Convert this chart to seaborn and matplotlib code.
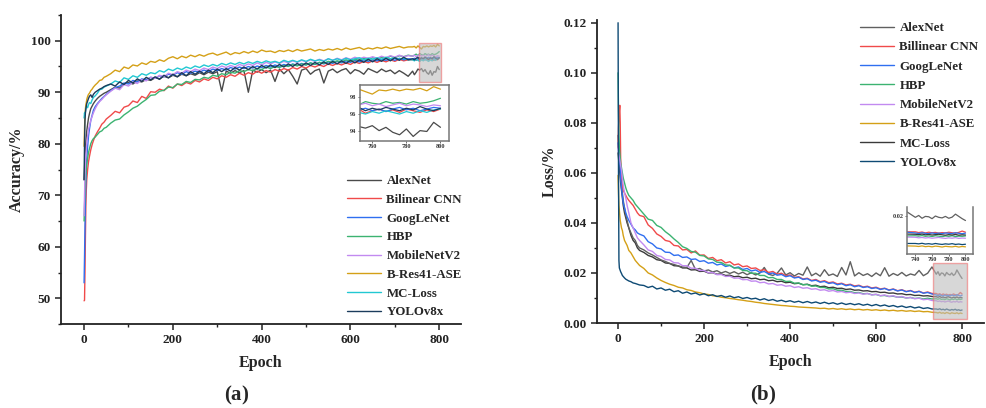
import matplotlib
matplotlib.use("Agg")
import matplotlib.pyplot as plt
import seaborn as sns
from matplotlib.patches import Rectangle
from matplotlib.ticker import MultipleLocator, FormatStrFormatter

# ---------------- data ----------------
epochs = ([0, 1, 2, 3, 4, 5, 6, 8, 10, 12, 15, 18, 21, 25, 30, 35, 40, 45, 50]
          + list(range(60, 731, 10)) + list(range(740, 801, 4)))

names_acc = ["AlexNet", "Bilinear CNN", "GoogLeNet", "HBP", "MobileNetV2",
             "B-Res41-ASE", "MC-Loss", "YOLOv8x"]
names_loss = ["AlexNet", "Billinear CNN", "GoogLeNet", "HBP", "MobileNetV2",
              "B-Res41-ASE", "MC-Loss", "YOLOv8x"]

acc_alexnet = ([73.0, 75.0, 77.5, 79.0, 80.5, 81.5, 82.5, 83.8, 85.0, 85.8, 86.8, 87.3, 87.8, 88.3, 88.8, 89.2, 89.5, 89.8, 90.0]
               + [90.5, 91.0, 90.8, 91.6, 91.9, 91.6, 92.2, 92.0, 92.5, 92.3,
                  92.8, 92.6, 93.1, 92.8, 93.3, 93.0, 93.5, 93.2, 93.6, 93.3,
                  93.8, 93.4, 93.9, 93.6, 94.0, 90.2, 94.1, 93.7, 94.2, 93.8,
                  94.2, 90.0, 94.3, 93.9, 94.4, 93.8, 94.3, 92.1, 94.5, 93.6,
                  94.4, 93.1, 91.6, 94.3, 94.6, 93.5, 94.2, 94.5, 91.8, 94.1,
                  94.5, 93.8, 94.3, 94.6, 93.6, 94.4, 94.1, 93.5, 94.6, 94.2,
                  93.8, 94.5, 94.0, 94.3, 93.6, 94.2, 93.7, 93.1]
               + [94.1, 93.4, 93.9, 94.5, 94.3, 94.6, 94.0, 94.4, 93.8, 93.5, 94.2, 93.3, 94.0, 93.9, 95.0, 94.4])
acc_bilinear = ([49.5, 49.6, 55.0, 62.0, 68.0, 71.0, 73.0, 75.0, 76.5, 77.5, 78.8, 79.8, 80.6, 81.5, 82.3, 83.0, 83.8, 84.2, 84.8]
                + [85.5, 86.3, 86.0, 87.1, 87.4, 88.3, 88.0, 89.2, 88.8, 90.1,
                   90.0, 90.6, 90.3, 91.2, 90.8, 91.6, 91.3, 91.9, 91.6, 92.3,
                   92.0, 92.6, 92.3, 92.9, 92.6, 93.2, 92.9, 93.4, 93.1, 93.7,
                   93.3, 93.8, 93.5, 94.1, 93.7, 94.2, 93.9, 94.4, 94.1, 94.6,
                   94.3, 94.8, 94.5, 95.0, 94.7, 95.2, 94.9, 95.3, 95.0, 95.5,
                   95.2, 95.6, 95.3, 95.7, 95.4, 95.9, 95.6, 96.0, 95.7, 96.1,
                   95.8, 96.2, 95.9, 96.3, 96.0, 96.4, 96.1, 96.3]
                + [96.3, 96.5, 96.2, 96.6, 96.1, 96.4, 96.6, 96.3, 96.5, 96.2, 96.6, 96.4, 96.2, 96.5, 96.3, 96.6])
acc_googlenet = ([53.0, 58.0, 64.0, 69.0, 72.5, 75.0, 77.0, 79.5, 81.5, 82.8, 84.5, 85.5, 86.5, 87.2, 87.8, 88.3, 88.8, 89.2, 89.6]
                 + [90.3, 90.9, 91.2, 91.8, 91.6, 92.3, 92.0, 92.6, 92.4, 92.9,
                    92.7, 93.2, 93.0, 93.5, 93.3, 93.8, 93.5, 94.0, 93.7, 94.1,
                    93.9, 94.3, 94.0, 94.5, 94.2, 94.6, 94.3, 94.8, 94.5, 94.9,
                    94.6, 95.0, 94.7, 95.1, 94.8, 95.2, 94.9, 95.3, 95.0, 95.4,
                    95.1, 95.5, 95.2, 95.6, 95.3, 95.7, 95.4, 95.8, 95.5, 95.9,
                    95.6, 96.0, 95.7, 96.1, 95.8, 96.2, 95.9, 96.3, 96.0, 96.3,
                    96.1, 96.4, 96.2, 96.5, 96.2, 96.6, 96.3, 96.5]
                 + [96.4, 96.6, 96.3, 96.5, 96.7, 96.4, 96.6, 96.3, 96.6, 96.8, 96.5, 96.7, 96.4, 96.6, 96.8, 96.7])
acc_hbp = ([65.0, 68.0, 70.5, 72.5, 74.0, 75.0, 76.0, 77.2, 78.3, 79.0, 80.0, 80.6, 81.0, 81.3, 81.8, 82.3, 82.5, 83.0, 83.2]
           + [84.0, 84.6, 84.8, 85.6, 86.2, 86.9, 87.3, 88.0, 88.6, 89.4,
              89.5, 90.2, 90.4, 91.0, 90.9, 91.6, 91.5, 92.1, 91.9, 92.5,
              92.4, 92.9, 92.7, 93.3, 93.1, 93.6, 93.4, 93.9, 93.7, 94.2,
              94.0, 94.4, 94.2, 94.6, 94.4, 94.9, 94.6, 95.0, 94.8, 95.2,
              95.0, 95.4, 95.1, 95.5, 95.3, 95.7, 95.4, 95.8, 95.6, 96.0,
              95.8, 96.1, 95.9, 96.3, 96.0, 96.4, 96.2, 96.6, 96.3, 96.7,
              96.5, 96.8, 96.6, 97.0, 96.7, 97.1, 96.9, 97.2]
           + [97.0, 97.2, 97.4, 97.1, 97.5, 97.3, 97.2, 97.5, 97.3, 97.4, 97.2, 97.5, 97.3, 97.4, 97.6, 97.9])
acc_mobilenet = ([66.0, 70.0, 74.0, 76.5, 78.0, 79.0, 80.0, 81.5, 82.8, 83.5, 84.5, 85.3, 86.0, 86.8, 87.6, 88.2, 88.6, 89.1, 89.5]
                 + [90.2, 90.8, 90.5, 91.5, 91.2, 92.0, 91.7, 92.5, 92.2, 92.9,
                    92.7, 93.3, 93.0, 93.7, 93.4, 94.0, 93.7, 94.3, 94.0, 94.5,
                    94.2, 94.7, 94.4, 94.9, 94.6, 95.1, 94.8, 95.2, 94.9, 95.4,
                    95.1, 95.5, 95.2, 95.7, 95.3, 95.8, 95.5, 95.9, 95.6, 96.0,
                    95.7, 96.1, 95.8, 96.2, 95.9, 96.3, 96.0, 96.4, 96.1, 96.5,
                    96.2, 96.6, 96.3, 96.7, 96.4, 96.8, 96.5, 96.8, 96.6, 96.9,
                    96.6, 97.0, 96.7, 97.1, 96.8, 97.2, 96.9, 97.1]
                 + [97.0, 97.2, 96.9, 97.1, 97.3, 97.0, 97.2, 96.9, 97.1, 97.3, 97.0, 97.2, 97.1, 96.9, 97.1, 97.0])
acc_bres = ([79.5, 83.0, 85.5, 86.8, 87.6, 88.0, 88.6, 89.2, 89.6, 89.8, 90.3, 90.6, 91.0, 91.4, 91.8, 92.3, 92.4, 92.9, 93.1]
            + [93.6, 94.3, 94.0, 94.9, 94.6, 95.3, 95.1, 95.7, 95.4, 96.0,
               95.8, 96.3, 96.0, 96.6, 96.9, 96.5, 97.0, 96.7, 97.2, 96.9,
               97.3, 97.0, 97.4, 97.6, 97.2, 97.5, 97.8, 97.3, 97.7, 97.5,
               97.9, 97.6, 98.0, 97.7, 98.2, 97.9, 98.0, 97.7, 98.1, 97.9,
               98.2, 97.9, 98.3, 98.0, 98.2, 98.4, 98.0, 98.3, 98.1, 98.4,
               98.2, 98.5, 98.2, 98.6, 98.3, 98.5, 98.7, 98.3, 98.6, 98.4,
               98.7, 98.5, 98.8, 98.5, 98.7, 98.9, 98.6, 98.8]
            + [98.8, 98.9, 98.6, 99.0, 98.7, 98.4, 98.9, 98.8, 99.0, 98.8, 99.0, 98.9, 99.1, 98.8, 99.3, 99.0])
acc_mcloss = ([85.0, 86.0, 85.5, 86.2, 86.8, 87.0, 87.3, 87.0, 87.6, 88.0, 87.8, 88.5, 89.0, 89.3, 89.8, 90.5, 90.6, 91.0, 91.2]
              + [91.6, 92.2, 91.9, 92.8, 92.5, 93.2, 92.9, 93.6, 93.3, 93.8,
                 93.6, 94.2, 93.9, 94.5, 94.2, 94.7, 94.4, 94.9, 94.6, 95.1,
                 94.8, 95.3, 95.0, 95.4, 95.1, 95.6, 95.3, 95.7, 95.4, 95.8,
                 95.5, 95.9, 95.6, 96.0, 95.7, 96.1, 95.8, 96.0, 95.7, 96.2,
                 95.9, 96.2, 95.9, 96.3, 96.0, 96.4, 96.1, 96.3, 96.0, 96.5,
                 96.2, 96.5, 96.2, 96.6, 96.3, 96.5, 96.7, 96.3, 96.6, 96.4,
                 96.7, 96.4, 96.8, 96.5, 96.7, 96.4, 96.6, 96.3]
              + [96.3, 96.1, 96.4, 96.2, 96.0, 96.3, 96.1, 96.4, 96.2, 96.0, 96.3, 96.1, 96.4, 96.2, 96.5, 96.6])
acc_yolo = ([73.0, 80.0, 84.5, 86.0, 86.8, 87.3, 87.8, 88.3, 88.8, 89.2, 89.5, 89.0, 89.6, 90.0, 90.3, 90.6, 90.8, 91.1, 91.3]
            + [91.6, 91.2, 92.0, 91.5, 92.3, 91.8, 92.6, 92.1, 92.9, 92.4,
               93.0, 92.5, 93.3, 92.8, 93.5, 93.0, 93.8, 93.2, 94.0, 93.5,
               94.1, 93.6, 94.3, 93.8, 94.5, 94.0, 94.6, 94.1, 94.8, 94.3,
               94.9, 94.4, 95.0, 94.5, 95.2, 94.7, 95.3, 94.8, 95.4, 94.9,
               95.5, 95.0, 95.6, 95.1, 95.7, 95.2, 95.8, 95.3, 95.9, 95.4,
               96.0, 95.5, 96.1, 95.6, 96.2, 95.7, 96.3, 95.8, 96.4, 95.9,
               96.5, 96.0, 96.6, 96.1, 96.7, 96.2, 96.8, 96.3]
            + [96.5, 96.3, 96.6, 96.8, 96.4, 96.7, 96.5, 96.8, 96.6, 96.4, 96.7, 96.5, 96.9, 96.6, 96.4, 96.7])

loss_alexnet = ([0.075, 0.072, 0.070, 0.068, 0.066, 0.063, 0.060, 0.056, 0.052, 0.049, 0.046, 0.043, 0.041, 0.038, 0.036, 0.034, 0.033, 0.031, 0.030]
                + [0.0292, 0.0280, 0.0272, 0.0262, 0.0252, 0.0246, 0.0238, 0.0234, 0.0228, 0.0224,
                   0.0222, 0.0250, 0.0214, 0.0218, 0.0208, 0.0212, 0.0204, 0.0209, 0.0200, 0.0206,
                   0.0198, 0.0205, 0.0196, 0.0203, 0.0193, 0.0201, 0.0192, 0.0200, 0.0222, 0.0195,
                   0.0190, 0.0199, 0.0220, 0.0192, 0.0201, 0.0188, 0.0198, 0.0191, 0.0224, 0.0189,
                   0.0199, 0.0187, 0.0213, 0.0190, 0.0196, 0.0186, 0.0222, 0.0192, 0.0245, 0.0188,
                   0.0201, 0.0190, 0.0197, 0.0186, 0.0200, 0.0189, 0.0221, 0.0187, 0.0198, 0.0190,
                   0.0202, 0.0188, 0.0196, 0.0191, 0.0210, 0.0189, 0.0199, 0.0224]
                + [0.0195, 0.0205, 0.0190, 0.0200, 0.0198, 0.0188, 0.0202, 0.0195, 0.0192, 0.0200, 0.0190, 0.0196, 0.0212, 0.0200, 0.0188, 0.0178])
loss_bilinear = ([0.070, 0.078, 0.082, 0.085, 0.087, 0.080, 0.066, 0.058, 0.055, 0.053, 0.052, 0.051, 0.050, 0.049, 0.048, 0.047, 0.0455, 0.044, 0.043]
                 + [0.0425, 0.0392, 0.0378, 0.0356, 0.0346, 0.0330, 0.0326, 0.0310, 0.0308, 0.0292,
                    0.0294, 0.0280, 0.0288, 0.0271, 0.0272, 0.0258, 0.0262, 0.0249, 0.0253, 0.0240,
                    0.0245, 0.0232, 0.0236, 0.0225, 0.0228, 0.0218, 0.0220, 0.0210, 0.0213, 0.0202,
                    0.0206, 0.0195, 0.0199, 0.0189, 0.0192, 0.0182, 0.0185, 0.0176, 0.0179, 0.0170,
                    0.0174, 0.0165, 0.0169, 0.0161, 0.0164, 0.0156, 0.0159, 0.0152, 0.0155, 0.0148,
                    0.0151, 0.0144, 0.0147, 0.0140, 0.0143, 0.0136, 0.0139, 0.0132, 0.0136, 0.0129,
                    0.0133, 0.0126, 0.0130, 0.0123, 0.0127, 0.0120, 0.0124, 0.0118]
                 + [0.0118, 0.0114, 0.0117, 0.0112, 0.0116, 0.0113, 0.0115, 0.0111, 0.0114, 0.0112, 0.0116, 0.0113, 0.0111, 0.0115, 0.0122, 0.0116])
loss_googlenet = ([0.072, 0.070, 0.068, 0.066, 0.064, 0.062, 0.058, 0.054, 0.051, 0.048, 0.046, 0.044, 0.0425, 0.041, 0.0395, 0.038, 0.0372, 0.036, 0.0355]
                  + [0.0348, 0.0325, 0.0316, 0.0300, 0.0296, 0.0283, 0.0282, 0.0270, 0.0272, 0.0262,
                     0.0264, 0.0254, 0.0256, 0.0246, 0.0249, 0.0239, 0.0242, 0.0232, 0.0236, 0.0226,
                     0.0230, 0.0220, 0.0224, 0.0214, 0.0218, 0.0208, 0.0212, 0.0202, 0.0206, 0.0196,
                     0.0200, 0.0191, 0.0194, 0.0185, 0.0189, 0.0180, 0.0183, 0.0174, 0.0177, 0.0168,
                     0.0171, 0.0163, 0.0166, 0.0158, 0.0161, 0.0153, 0.0157, 0.0149, 0.0153, 0.0145,
                     0.0149, 0.0142, 0.0145, 0.0138, 0.0141, 0.0134, 0.0138, 0.0131, 0.0135, 0.0128,
                     0.0132, 0.0125, 0.0129, 0.0122, 0.0126, 0.0119, 0.0122, 0.0116]
                  + [0.0112, 0.0109, 0.0113, 0.0110, 0.0108, 0.0112, 0.0109, 0.0111, 0.0108, 0.0112, 0.0110, 0.0109, 0.0113, 0.0110, 0.0108, 0.0111])
loss_hbp = ([0.100, 0.085, 0.075, 0.070, 0.068, 0.066, 0.064, 0.062, 0.060, 0.058, 0.056, 0.054, 0.0525, 0.051, 0.050, 0.049, 0.0475, 0.0465, 0.0455]
            + [0.0435, 0.0415, 0.0410, 0.0390, 0.0382, 0.0365, 0.0352, 0.0336, 0.0322, 0.0305,
               0.0298, 0.0286, 0.0283, 0.0270, 0.0268, 0.0256, 0.0254, 0.0243, 0.0242, 0.0232,
               0.0231, 0.0220, 0.0220, 0.0210, 0.0209, 0.0199, 0.0199, 0.0190, 0.0190, 0.0181,
               0.0182, 0.0174, 0.0174, 0.0166, 0.0167, 0.0159, 0.0160, 0.0153, 0.0154, 0.0147,
               0.0148, 0.0142, 0.0142, 0.0136, 0.0137, 0.0131, 0.0131, 0.0126, 0.0126, 0.0121,
               0.0122, 0.0117, 0.0118, 0.0113, 0.0114, 0.0109, 0.0110, 0.0106, 0.0107, 0.0103,
               0.0104, 0.0100, 0.0102, 0.0098, 0.0100, 0.0096, 0.0099, 0.0096]
            + [0.0097, 0.0095, 0.0098, 0.0094, 0.0096, 0.0093, 0.0097, 0.0095, 0.0092, 0.0096, 0.0094, 0.0097, 0.0093, 0.0095, 0.0094, 0.0096])
loss_mobilenet = ([0.070, 0.068, 0.067, 0.066, 0.065, 0.064, 0.063, 0.061, 0.058, 0.055, 0.052, 0.050, 0.047, 0.044, 0.040, 0.038, 0.036, 0.034, 0.033]
                  + [0.0312, 0.0292, 0.0286, 0.0270, 0.0266, 0.0254, 0.0252, 0.0241, 0.0240, 0.0229,
                     0.0229, 0.0219, 0.0219, 0.0210, 0.0210, 0.0201, 0.0202, 0.0193, 0.0194, 0.0186,
                     0.0187, 0.0179, 0.0180, 0.0173, 0.0174, 0.0167, 0.0168, 0.0161, 0.0163, 0.0156,
                     0.0158, 0.0151, 0.0153, 0.0147, 0.0149, 0.0142, 0.0145, 0.0139, 0.0141, 0.0135,
                     0.0137, 0.0131, 0.0133, 0.0127, 0.0130, 0.0124, 0.0126, 0.0121, 0.0123, 0.0118,
                     0.0120, 0.0115, 0.0118, 0.0112, 0.0115, 0.0109, 0.0112, 0.0106, 0.0109, 0.0103,
                     0.0106, 0.0100, 0.0102, 0.0097, 0.0099, 0.0093, 0.0095, 0.0090]
                  + [0.0089, 0.0086, 0.0088, 0.0085, 0.0087, 0.0084, 0.0086, 0.0088, 0.0085, 0.0083, 0.0086, 0.0084, 0.0087, 0.0083, 0.0085, 0.0084])
loss_bres = ([0.059, 0.052, 0.047, 0.045, 0.043, 0.041, 0.040, 0.038, 0.037, 0.035, 0.033, 0.032, 0.031, 0.029, 0.028, 0.0265, 0.025, 0.024, 0.023]
             + [0.0218, 0.0200, 0.0192, 0.0180, 0.0170, 0.0162, 0.0155, 0.0150, 0.0143, 0.0140,
                0.0133, 0.0130, 0.0124, 0.0121, 0.0116, 0.0114, 0.0109, 0.0107, 0.0103, 0.0101,
                0.0098, 0.0096, 0.0093, 0.0091, 0.0088, 0.0086, 0.0083, 0.0081, 0.0078, 0.0076,
                0.0074, 0.0072, 0.0070, 0.0069, 0.0067, 0.0066, 0.0064, 0.0063, 0.0062, 0.0061,
                0.0060, 0.0058, 0.0059, 0.0056, 0.0058, 0.0055, 0.0057, 0.0054, 0.0056, 0.0053,
                0.0055, 0.0052, 0.0054, 0.0051, 0.0053, 0.0050, 0.0052, 0.0049, 0.0051, 0.0048,
                0.0050, 0.0047, 0.0049, 0.0046, 0.0048, 0.0045, 0.0046, 0.0043]
             + [0.0042, 0.0040, 0.0043, 0.0039, 0.0041, 0.0038, 0.0042, 0.0040, 0.0037, 0.0041, 0.0039, 0.0038, 0.0041, 0.0037, 0.0040, 0.0038])
loss_mcloss = ([0.068, 0.066, 0.064, 0.062, 0.060, 0.058, 0.056, 0.053, 0.050, 0.047, 0.044, 0.042, 0.040, 0.038, 0.035, 0.033, 0.032, 0.030, 0.029]
               + [0.0282, 0.0270, 0.0264, 0.0253, 0.0250, 0.0240, 0.0238, 0.0229, 0.0228, 0.0220,
                  0.0220, 0.0212, 0.0213, 0.0206, 0.0207, 0.0200, 0.0201, 0.0195, 0.0196, 0.0190,
                  0.0191, 0.0185, 0.0187, 0.0181, 0.0183, 0.0177, 0.0179, 0.0173, 0.0175, 0.0169,
                  0.0171, 0.0165, 0.0167, 0.0161, 0.0163, 0.0157, 0.0159, 0.0153, 0.0155, 0.0149,
                  0.0151, 0.0145, 0.0147, 0.0141, 0.0143, 0.0138, 0.0139, 0.0134, 0.0136, 0.0131,
                  0.0132, 0.0128, 0.0129, 0.0125, 0.0126, 0.0122, 0.0123, 0.0119, 0.0120, 0.0116,
                  0.0117, 0.0113, 0.0114, 0.0110, 0.0111, 0.0108, 0.0109, 0.0106]
               + [0.0105, 0.0103, 0.0106, 0.0102, 0.0104, 0.0101, 0.0103, 0.0105, 0.0102, 0.0100, 0.0103, 0.0101, 0.0104, 0.0100, 0.0102, 0.0101])
loss_yolo = ([0.120, 0.060, 0.025, 0.022, 0.0215, 0.021, 0.0205, 0.0198, 0.019, 0.0186, 0.0180, 0.0175, 0.0172, 0.0168, 0.0165, 0.0160, 0.0158, 0.0155, 0.0152]
             + [0.0150, 0.0142, 0.0147, 0.0136, 0.0140, 0.0131, 0.0135, 0.0125, 0.0129, 0.0119,
                0.0124, 0.0116, 0.0120, 0.0112, 0.0117, 0.0109, 0.0113, 0.0106, 0.0110, 0.0103,
                0.0108, 0.0101, 0.0105, 0.0098, 0.0102, 0.0096, 0.0099, 0.0092, 0.0097, 0.0090,
                0.0094, 0.0087, 0.0091, 0.0085, 0.0089, 0.0083, 0.0087, 0.0081, 0.0086, 0.0080,
                0.0084, 0.0078, 0.0083, 0.0077, 0.0081, 0.0075, 0.0080, 0.0074, 0.0078, 0.0073,
                0.0077, 0.0071, 0.0075, 0.0069, 0.0074, 0.0068, 0.0072, 0.0066, 0.0070, 0.0064,
                0.0068, 0.0062, 0.0066, 0.0060, 0.0064, 0.0058, 0.0061, 0.0056]
             + [0.0056, 0.0054, 0.0057, 0.0053, 0.0055, 0.0052, 0.0056, 0.0053, 0.0051, 0.0054, 0.0052, 0.0055, 0.0051, 0.0053, 0.0050, 0.0052])

acc_series = [acc_alexnet, acc_bilinear, acc_googlenet, acc_hbp, acc_mobilenet, acc_bres, acc_mcloss, acc_yolo]
loss_series = [loss_alexnet, loss_bilinear, loss_googlenet, loss_hbp, loss_mobilenet, loss_bres, loss_mcloss, loss_yolo]

colors_acc = ["#4a4a4a", "#f04a4a", "#2f6ff0", "#3cb371", "#c28af0", "#d4a017", "#22c8d2", "#1b3c5c"]
colors_loss = ["#606060", "#f04a4a", "#2f6ff0", "#3cb371", "#c28af0", "#d4a017", "#3a3a3a", "#0e4a74"]

# zoom windows
acc_zoom_x, acc_zoom_y = (754, 804), (91.9, 99.5)
loss_zoom_x, loss_zoom_y = (733, 811), (0.0015, 0.0241)

# ---------------- style ----------------
sns.set_theme(style="ticks")
plt.rcParams["font.family"] = ["Liberation Serif", "DejaVu Serif"]
plt.rcParams["font.weight"] = "bold"
plt.rcParams["axes.labelweight"] = "bold"
plt.rcParams["mathtext.fontset"] = "custom"
plt.rcParams["mathtext.rm"] = "Liberation Serif"
plt.rcParams["mathtext.bf"] = "Liberation Serif:bold"

W, H = 986, 408
fig = plt.figure(figsize=(W / 100, H / 100), dpi=100)
ax1 = fig.add_axes([61 / W, 1 - 324 / H, 400 / W, 309 / H])
ax2 = fig.add_axes([597 / W, 1 - 323 / H, 387 / W, 303 / H])


def style_main(ax):
    for s in ["top", "right"]:
        ax.spines[s].set_visible(False)
    for s in ["left", "bottom"]:
        ax.spines[s].set_linewidth(1.3)
        ax.spines[s].set_color("#222222")
    ax.tick_params(which="major", direction="out", length=4, width=1.1, colors="#222222",
                   labelsize=9.5, labelcolor="#222222")
    ax.tick_params(which="minor", direction="out", length=2.5, width=1.0, colors="#222222")
    for lab in ax.get_xticklabels() + ax.get_yticklabels():
        lab.set_fontweight("bold")
    ax.grid(False)


def style_inset(ax):
    for s in ax.spines.values():
        s.set_linewidth(1.1)
        s.set_color("#777777")
    ax.tick_params(which="major", direction="out", length=1.5, width=0.6, labelsize=4.5, pad=1,
                   colors="#555555", labelcolor="#333333")
    ax.set_facecolor("white")
    ax.grid(False)


legend_kw = dict(frameon=False, prop={"size": 9.3, "weight": "bold", "family": "Liberation Serif"},
                 handlelength=2.6, handletextpad=0.45, borderpad=0, borderaxespad=0)

# ---------------- panel (a) ----------------
for name, vals, col in zip(names_acc, acc_series, colors_acc):
    sns.lineplot(x=epochs, y=vals, ax=ax1, color=col, lw=1.0, label=name, estimator=None)
ax1.set_xlim(-52, 849)
ax1.set_ylim(45, 105)
ax1.xaxis.set_major_locator(MultipleLocator(200))
ax1.xaxis.set_minor_locator(MultipleLocator(100))
ax1.yaxis.set_minor_locator(MultipleLocator(5))
ax1.set_yticks([50, 60, 70, 80, 90, 100])
ax1.set_xlabel("Epoch", fontsize=11.5, fontweight="bold", labelpad=6)
ax1.set_ylabel("Accuracy/%", fontsize=11.5, fontweight="bold", labelpad=4)
style_main(ax1)
ax1.add_patch(Rectangle((acc_zoom_x[0], acc_zoom_y[0]), acc_zoom_x[1] - acc_zoom_x[0],
                        acc_zoom_y[1] - acc_zoom_y[0], facecolor="#bdbdbd", alpha=0.6,
                        edgecolor="#f07070", lw=1.0, zorder=5))
ax1.legend(loc="upper left", bbox_to_anchor=(347 / W, 1 - 175 / H), bbox_transform=fig.transFigure,
           labelspacing=0.52, **legend_kw)

ins1 = fig.add_axes([360 / W, 1 - 141 / H, 89 / W, 56 / H])
for name, vals, col in zip(names_acc, acc_series, colors_acc):
    sns.lineplot(x=epochs, y=vals, ax=ins1, color=col, lw=0.9, legend=False, estimator=None)
ins1.set_xlim(752.8, 805)
ins1.set_ylim(92.75, 99.5)
ins1.set_xticks([760, 780, 800])
ins1.set_yticks([94, 96, 98])
ins1.set_xlabel("")
ins1.set_ylabel("")
style_inset(ins1)

# ---------------- panel (b) ----------------
zorders = [2, 3, 3, 3, 3, 3, 1, 4]
for name, vals, col, z in zip(names_loss, loss_series, colors_loss, zorders):
    sns.lineplot(x=epochs, y=vals, ax=ax2, color=col, lw=1.0, label=name, estimator=None, zorder=z)
ax2.set_xlim(-49, 851)
ax2.set_ylim(0, 0.1211)
ax2.xaxis.set_major_locator(MultipleLocator(200))
ax2.xaxis.set_minor_locator(MultipleLocator(100))
ax2.yaxis.set_major_locator(MultipleLocator(0.02))
ax2.yaxis.set_minor_locator(MultipleLocator(0.01))
ax2.yaxis.set_major_formatter(FormatStrFormatter("%.2f"))
ax2.set_xlabel("Epoch", fontsize=11.5, fontweight="bold", labelpad=6)
ax2.set_ylabel("Loss/%", fontsize=11.5, fontweight="bold", labelpad=4)
style_main(ax2)
ax2.add_patch(Rectangle((loss_zoom_x[0], loss_zoom_y[0]), loss_zoom_x[1] - loss_zoom_x[0],
                        loss_zoom_y[1] - loss_zoom_y[0], facecolor="#bdbdbd", alpha=0.6,
                        edgecolor="#f07070", lw=1.0, zorder=5))
ax2.legend(loc="upper left", bbox_to_anchor=(860 / W, 1 - 22 / H), bbox_transform=fig.transFigure,
           labelspacing=0.56, **legend_kw)

ins2 = fig.add_axes([907 / W, 1 - 254 / H, 66 / W, 47 / H])
for name, vals, col in zip(names_loss, loss_series, colors_loss):
    sns.lineplot(x=epochs, y=vals, ax=ins2, color=col, lw=0.9, legend=False, estimator=None)
ins2.set_xlim(730, 809)
ins2.set_ylim(0, 0.025)
ins2.set_xticks([740, 760, 780, 800])
ins2.set_yticks([0.02])
ins2.yaxis.set_major_formatter(FormatStrFormatter("%.2f"))
ins2.set_xlabel("")
ins2.set_ylabel("")
style_inset(ins2)
ins2.spines["top"].set_visible(False)

# panel letters
fig.text(237 / W, 1 - 395 / H, r"($\mathbf{a}$)", ha="center", va="center", fontsize=15)
fig.text(763 / W, 1 - 395 / H, r"($\mathbf{b}$)", ha="center", va="center", fontsize=15)

fig.savefig("out.png", dpi=100, facecolor="white")
